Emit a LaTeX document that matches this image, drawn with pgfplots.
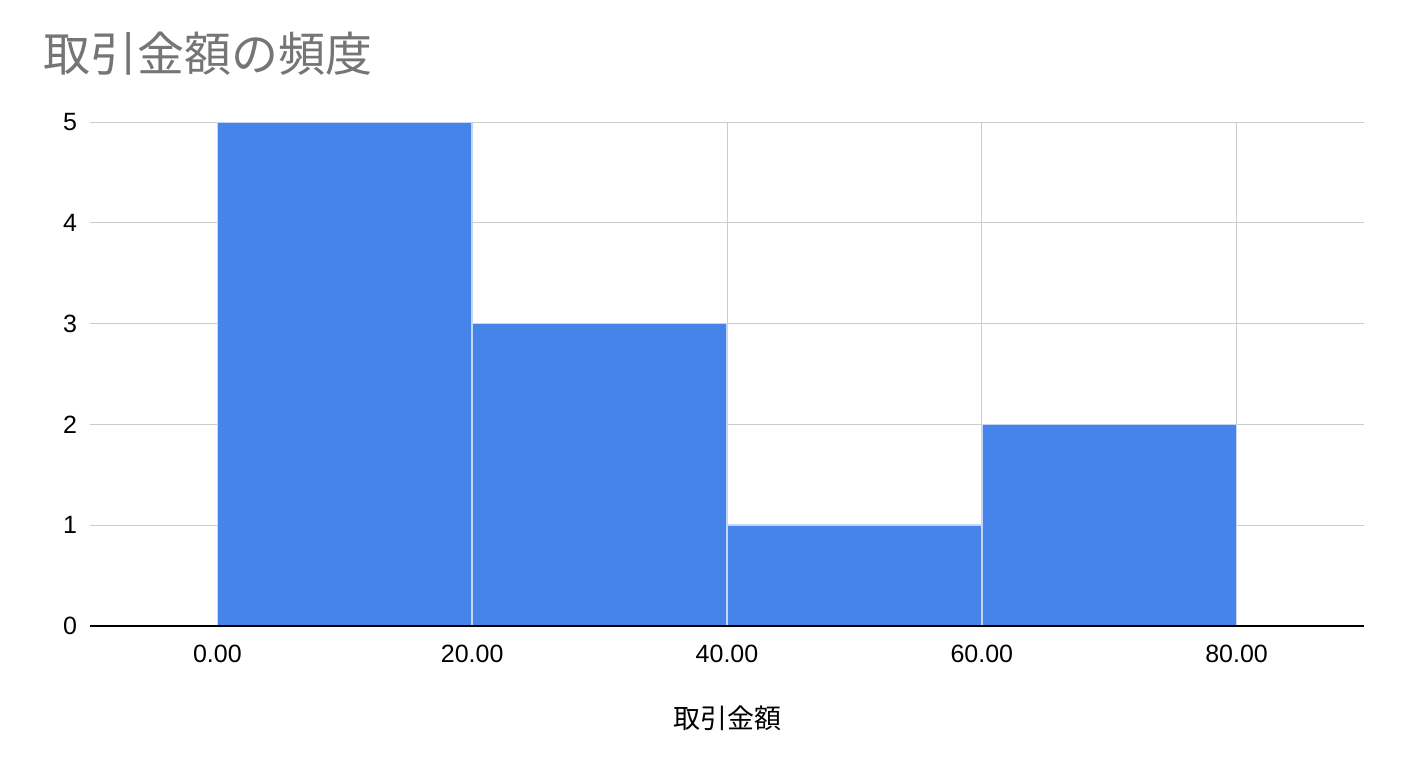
\documentclass[border=0pt]{standalone}
\usepackage{fontspec}
\setmainfont{Liberation Sans}
\newfontfamily\cjk{Noto Sans CJK JP}
\usepackage{pgfplots}
\pgfplotsset{compat=1.18}
\definecolor{barblue}{HTML}{4684EA}
\definecolor{baredge}{HTML}{C3D6F5}
\definecolor{gridgray}{HTML}{CCCCCC}
\definecolor{titlegray}{HTML}{757575}
\begin{document}
\begin{tikzpicture}
\useasboundingbox (-45pt,-71pt) rectangle (659pt,313pt);
\begin{axis}[
    at={(0,0)}, anchor=south west,
    scale only axis,
    width=637pt, height=252pt,
    xmin=-10, xmax=90,
    ymin=0, ymax=5,
    xtick={0,20,40,60,80},
    ytick={0,1,2,3,4,5},
    xticklabel style={/pgf/number format/.cd,fixed,fixed zerofill,precision=2},
    /pgf/number format/assume math mode=true,
    tick label style={font=\fontsize{12.5}{14}\selectfont},
    major tick length=0pt,
    xticklabel shift=6pt,
    yticklabel shift=3pt,
    grid=major,
    grid style={gridgray, line width=0.5pt},
    axis line style={draw=none},
    title={\cjk 取引金額の頻度},
    title style={at={(axis description cs:0,1)}, anchor=west,
        xshift=-27pt, yshift=28pt, text=titlegray,
        font=\fontsize{23.5}{26}\selectfont},
    xlabel={\cjk 取引金額},
    xlabel style={at={(axis description cs:0.5,0)}, anchor=center,
        yshift=-46pt, font=\fontsize{13.5}{16}\selectfont},
]
\addplot[ybar interval, fill=barblue, draw=baredge, line width=0.75pt]
    coordinates {(0,5)(20,3)(40,1)(60,2)(80,2)};
\draw[black, line width=0.6pt] (rel axis cs:0,0) -- (rel axis cs:1,0);
\end{axis}
\end{tikzpicture}
\end{document}
